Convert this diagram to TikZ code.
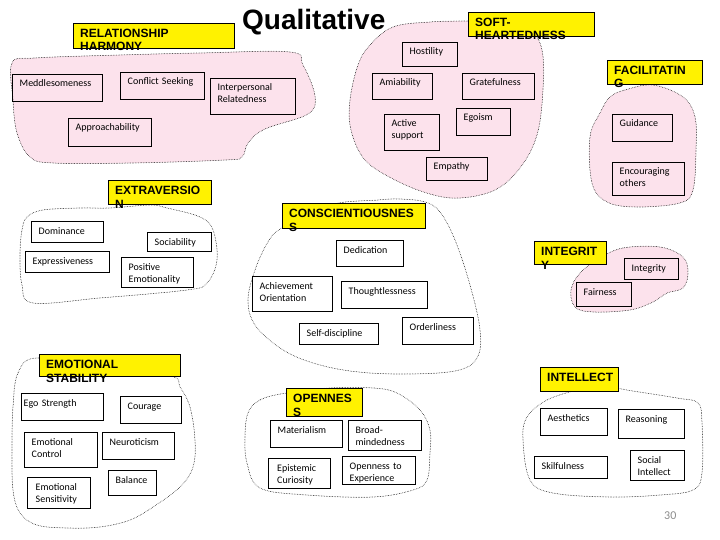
\documentclass[tikz,border=0pt]{standalone}
\usepackage{fontspec}
\setmainfont{Carlito}
\newfontfamily\hdfont{Liberation Sans}
\definecolor{blobpink}{RGB}{252,226,236}
\definecolor{pagegray}{RGB}{140,140,140}
\tikzset{
  blobline/.style={draw=black, line width=0.75pt, line cap=round, dash pattern=on 0pt off 1.6pt},
  pinkblob/.style={blobline, fill=blobpink},
  whiteblob/.style={blobline},
  bxs/.style={draw=black, line width=0.8pt, inner sep=0pt, anchor=north west},
  bxt/.style={inner sep=0pt, anchor=base west, align=left, text width=150pt, font=\fontsize{10}{12}\selectfont},
  hds/.style={draw=black, line width=0.8pt, fill=yellow, inner sep=0pt, anchor=north west},
  hdt/.style={inner sep=0pt, anchor=base west, align=left, text width=200pt, font=\hdfont\bfseries\fontsize{12}{13.5}\selectfont},
}
\newcommand\mybox[7][7.5]{%
  \node[bxs, minimum width=#5pt, minimum height=#6pt] (#2) at (#3,#4) {};
  \node[bxt] (#2t) at ([xshift=#1pt, yshift=-13pt]#2.north west) {#7};}
\newcommand\myhead[6]{%
  \node[hds, minimum width=#4pt, minimum height=#5pt] (#1) at (#2,#3) {};
  \node[hdt] (#1t) at ([xshift=7pt, yshift=-14.5pt]#1.north west) {#6};}
\begin{document}
\begin{tikzpicture}[x=1pt,y=-1pt]
\useasboundingbox (0,0) rectangle (720,540);
% ---------- blobs ----------
\path[pinkblob] plot[smooth cycle, tension=0.6] coordinates {(12,63) (35,58) (120,55) (200,53) (290,52) (303,65) (315,96) (308,114) (265,129) (248,143) (242,157) (225,160) (133,163) (53,163) (30,157) (17,133) (13,100)};
\path[pinkblob] plot[smooth cycle, tension=0.6] coordinates {(370,45) (393,27) (430,22) (468,21) (505,21) (530,30) (542,50) (543,90) (537,135) (520,168) (495,190) (460,198) (430,194) (395,180) (365,160) (351,130) (350,100) (358,65)};
\path[pinkblob] plot[smooth cycle, tension=0.6] coordinates {(610,97) (625,90) (653,85) (683,97) (695,117) (696,150) (693,190) (680,203) (637,207) (607,202) (592,183) (590,137) (600,113)};
\path[whiteblob] plot[smooth cycle, tension=0.6] coordinates {(22,230) (27,217) (43,210) (80,208) (110,208) (150,205) (167,208) (200,217) (213,230) (217,260) (207,283) (187,290) (100,298) (33,303) (22,285) (20,255)};
\path[whiteblob] plot[smooth cycle, tension=0.6] coordinates {(282,228) (268,242) (255,270) (248,300) (255,325) (280,348) (310,362) (350,371) (400,374) (455,371) (477,358) (480,330) (470,285) (455,240) (440,212) (425,202) (400,199) (378,200) (330,205)};
\path[pinkblob] plot[smooth cycle, tension=0.6] coordinates {(600,258) (623,248) (660,247) (683,257) (688,273) (683,288) (667,293) (653,302) (630,310) (593,312) (575,307) (571,290) (580,273)};
\path[whiteblob] plot[smooth cycle, tension=0.6] coordinates {(37,358) (18,373) (13,407) (12,450) (13,490) (20,513) (37,525) (67,528) (100,527) (130,520) (153,507) (180,487) (193,467) (195,440) (190,407) (180,387) (170,376) (100,370)};
\path[whiteblob] plot[smooth cycle, tension=0.6] coordinates {(286,393) (260,400) (248,413) (245,437) (247,463) (260,488) (307,495) (373,497) (413,490) (427,480) (430,453) (430,430) (420,410) (397,393) (373,388) (330,388)};
\path[whiteblob] plot[smooth cycle, tension=0.6] coordinates {(577,390) (547,400) (527,417) (523,440) (530,480) (553,493) (610,497) (660,495) (693,490) (702,473) (702,423) (698,403) (677,398) (627,390) (600,385)};
% ---------- title ----------
\node[inner sep=0pt, anchor=base west, font=\hdfont\bfseries\fontsize{28}{30}\selectfont] (title) at (242,30) {Qualitative};
% ---------- headers ----------
\myhead{rh}{73}{23}{161}{25}{RELATIONSHIP\\HARMONY}
\myhead{soft}{468}{12}{126}{24}{SOFT-\\HEARTEDNESS}
\myhead{facil}{607}{60}{95}{24}{FACILITATIN\\G}
\myhead{extra}{108}{180}{103}{24}{EXTRAVERSIO\\N}
\myhead{consc}{282}{203}{143}{25}{CONSCIENTIOUSNES\\S}
\myhead{integh}{534}{241}{72}{23}{INTEGRIT\\Y}
\myhead{emost}{39}{354}{141}{22}{EMOTIONAL\\STABILITY}
\myhead{openh}{286}{388}{76}{28}{OPENNES\\S}
\myhead{intel}{540}{367}{78}{24}{INTELLECT}
% ---------- boxes ----------
\mybox{meddle}{12}{74}{90}{27}{Meddlesomeness}
\mybox{conflict}{120}{72}{84}{27}{Conflict Seeking}
\mybox{interp}{210}{78}{85}{36}{Interpersonal\\Relatedness}
\mybox{approach}{68}{118}{83}{28}{Approachability}
\mybox{host}{402}{42}{55}{24}{Hostility}
\mybox{amia}{372}{73}{60}{26}{Amiability}
\mybox{grate}{462}{73}{72}{26}{Gratefulness}
\mybox{active}{384}{114}{55}{36}{Active\\support}
\mybox{ego}{456}{108}{54}{27}{Egoism}
\mybox{empathy}{426}{157}{61}{23}{Empathy}
\mybox{guid}{612}{114}{60}{27}{Guidance}
\mybox{encour}{612}{162}{72}{33}{Encouraging\\others}
\mybox{domin}{31}{221}{72}{21}{Dominance}
\mybox{socia}{147}{232}{64}{19}{Sociability}
\mybox{expres}{25}{251}{84}{21}{Expressiveness}
\mybox{posem}{121}{257}{72}{30}{Positive\\Emotionality}
\mybox{dedic}{336}{240}{67}{26}{Dedication}
\mybox{achiev}{252}{276}{80}{35}{Achievement\\Orientation}
\mybox{thought}{341}{281}{86}{27}{Thoughtlessness}
\mybox{selfd}{299}{323}{79}{21}{Self-discipline}
\mybox{order}{402}{317}{71}{27}{Orderliness}
\mybox{integ}{624}{258}{54}{21}{Integrity}
\mybox{fair}{576}{282}{55}{24}{Fairness}
\mybox[2.5]{egos}{21}{393}{82}{27}{Ego Strength}
\mybox{courage}{120}{396}{61}{27}{Courage}
\mybox{emoc}{24}{432}{73}{35}{Emotional\\Control}
\mybox{neuro}{102}{432}{72}{27}{Neuroticism}
\mybox[8.5]{emos}{27}{477}{63}{31}{Emotional\\Sensitivity}
\mybox{balance}{108}{470}{48}{25}{Balance}
\mybox{mater}{270}{420}{72}{27}{Materialism}
\mybox{broad}{348}{420}{73}{30}{Broad-\\mindedness}
\mybox[9]{epist}{268}{458}{62}{30}{Epistemic\\Curiosity}
\mybox{openexp}{342}{456}{73}{28}{Openness to\\Experience}
\mybox{aesth}{540}{408}{67}{27}{Aesthetics}
\mybox{reason}{618}{409}{66}{29}{Reasoning}
\mybox{skil}{534}{456}{73}{22}{Skilfulness}
\mybox{social}{630}{450}{54}{30}{Social\\Intellect}
% ---------- page number ----------
\node[inner sep=0pt, anchor=base west, text=pagegray, font=\fontsize{12}{14}\selectfont] (pnum) at (664,519) {30};
\end{tikzpicture}
\end{document}
